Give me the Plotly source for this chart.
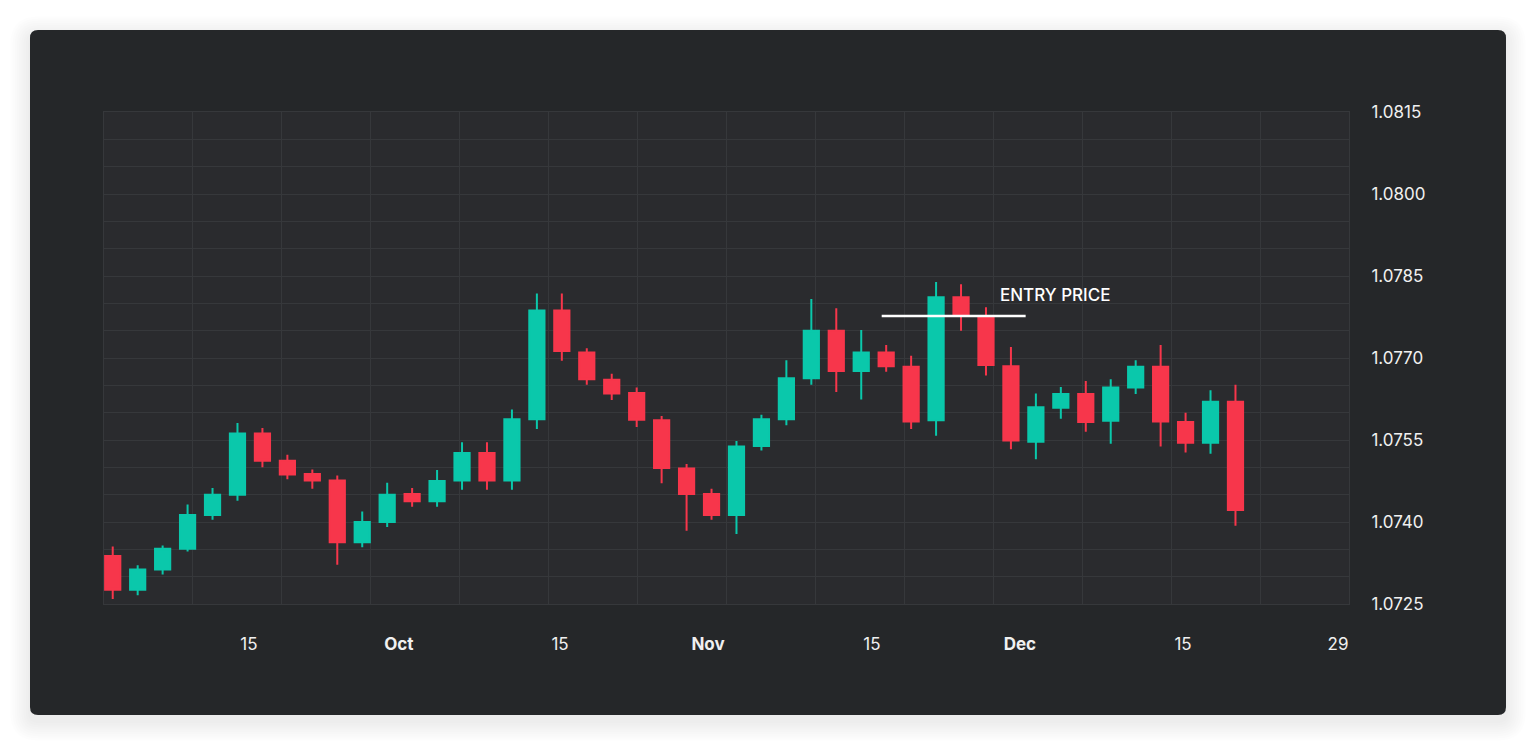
import plotly.graph_objects as go

# candle index (one candle per bar, evenly spaced)
candle = list(range(46))

open_ = [1.07338, 1.07276, 1.07313, 1.07351, 1.07413, 1.07450, 1.07562, 1.07512, 1.07488, 1.07476,
         1.07363, 1.07400, 1.07451, 1.07438, 1.07476, 1.07526, 1.07476, 1.07588, 1.07787, 1.07710,
         1.07660, 1.07636, 1.07586, 1.07498, 1.07451, 1.07413, 1.07539, 1.07588, 1.07663, 1.07750,
         1.07676, 1.07710, 1.07684, 1.07586, 1.07811, 1.07776, 1.07685, 1.07547, 1.07609, 1.07634,
         1.07585, 1.07646, 1.07684, 1.07583, 1.07545, 1.07620]
high = [1.07355, 1.07321, 1.07357, 1.07432, 1.07462, 1.07581, 1.07572, 1.07523, 1.07496, 1.07485,
        1.07419, 1.07472, 1.07462, 1.07495, 1.07546, 1.07546, 1.07606, 1.07818, 1.07818, 1.07718,
        1.07671, 1.07646, 1.07594, 1.07506, 1.07461, 1.07548, 1.07596, 1.07696, 1.07808, 1.07791,
        1.07751, 1.07724, 1.07704, 1.07839, 1.07835, 1.07793, 1.07720, 1.07635, 1.07647, 1.07658,
        1.07661, 1.07696, 1.07724, 1.07600, 1.07641, 1.07651]
low = [1.07259, 1.07266, 1.07304, 1.07346, 1.07404, 1.07439, 1.07500, 1.07478, 1.07461, 1.07322,
       1.07354, 1.07391, 1.07428, 1.07428, 1.07459, 1.07459, 1.07459, 1.07570, 1.07695, 1.07651,
       1.07623, 1.07574, 1.07471, 1.07384, 1.07404, 1.07378, 1.07531, 1.07577, 1.07651, 1.07638,
       1.07624, 1.07675, 1.07570, 1.07558, 1.07750, 1.07668, 1.07533, 1.07515, 1.07589, 1.07565,
       1.07543, 1.07634, 1.07538, 1.07527, 1.07525, 1.07393]
close = [1.07276, 1.07313, 1.07351, 1.07413, 1.07450, 1.07562, 1.07512, 1.07487, 1.07476, 1.07363,
         1.07400, 1.07450, 1.07438, 1.07475, 1.07526, 1.07476, 1.07588, 1.07787, 1.07713, 1.07661,
         1.07635, 1.07587, 1.07499, 1.07451, 1.07413, 1.07538, 1.07588, 1.07663, 1.07750, 1.07676,
         1.07710, 1.07685, 1.07584, 1.07811, 1.07780, 1.07687, 1.07549, 1.07610, 1.07634, 1.07583,
         1.07646, 1.07684, 1.07584, 1.07545, 1.07620, 1.07422]

# date labels along the bottom, placed on the candle index scale
date_ticks = [5.46, 11.47, 17.93, 23.86, 30.43, 36.36, 42.9, 49.11]
date_labels = ["15", "<b>Oct</b>", "15", "<b>Nov</b>", "15", "<b>Dec</b>", "15", "29"]

price_ticks = [1.0725, 1.0740, 1.0755, 1.0770, 1.0785, 1.0800, 1.0815]

entry_price = 1.07777
entry_from, entry_to = 30.82, 36.59

TEAL = "#0ac8ab"
RED = "#f7364b"
CARD = "#252729"
PLOT_BG = "#2a2b2e"
GRID = "#36383b"
FONT = "Inter, Lato, sans-serif"

W, H = 1536, 745
ML, MR, MT, MB = 104, 187, 112, 141
PW, PH = W - ML - MR, H - MT - MB
x_range = [-0.35, 49.55]


def px(x):
    return (x - ML) / PW


def py(y):
    return (H - MB - y) / PH


def rounded(x0, y0, x1, y1, r):
    pts = [("M", x0 + r, y0), ("L", x1 - r, y0), ("Q", x1, y0, x1, y0 + r),
           ("L", x1, y1 - r), ("Q", x1, y1, x1 - r, y1), ("L", x0 + r, y1),
           ("Q", x0, y1, x0, y1 - r), ("L", x0, y0 + r), ("Q", x0, y0, x0 + r, y0)]
    s = ""
    for p in pts:
        c = p[0]
        v = p[1:]
        coords = []
        for i in range(0, len(v), 2):
            coords.append("%.5f,%.5f" % (px(v[i]), py(v[i + 1])))
        s += c + " ".join(coords) + " "
    return s + "Z"


shapes = []
# soft drop shadow around the card
for k in range(9, 0, -1):
    g = k * 2.2
    shapes.append(dict(type="path", xref="paper", yref="paper", layer="below",
                       path=rounded(30 - g, 30 - g + 6, 1506 + g, 715 + g + 6, 8 + g),
                       fillcolor="rgba(0,0,0,0.009)", line=dict(width=0)))
shapes.append(dict(type="path", xref="paper", yref="paper", layer="below",
                   path=rounded(30, 30, 1506, 715, 8), fillcolor=CARD, line=dict(width=0)))
shapes.append(dict(type="rect", xref="paper", yref="paper", layer="below",
                   x0=0, x1=1, y0=0, y1=1, fillcolor=PLOT_BG, line=dict(width=0)))

fig = go.Figure()

fig.add_trace(go.Candlestick(
    x=candle, open=open_, high=high, low=low, close=close,
    increasing=dict(line=dict(color=TEAL, width=2), fillcolor=TEAL),
    decreasing=dict(line=dict(color=RED, width=2), fillcolor=RED),
    whiskerwidth=0, hoverinfo="skip", showlegend=False,
))

fig.add_trace(go.Scatter(
    x=[entry_from, entry_to], y=[entry_price, entry_price], mode="lines",
    line=dict(color="#ffffff", width=2.5), hoverinfo="skip", showlegend=False,
))

fig.add_annotation(x=35.48, y=1.07815, text="ENTRY PRICE", showarrow=False,
                   xanchor="left", yanchor="middle",
                   font=dict(color="#ffffff", size=17, family=FONT, weight=500))

fig.update_layout(
    width=W, height=H,
    margin=dict(l=ML, r=MR, t=MT, b=MB, pad=0),
    paper_bgcolor="#ffffff", plot_bgcolor=PLOT_BG,
    font=dict(family=FONT, size=17, color="#f0f0f0"),
    boxgap=0.39, boxgroupgap=0,
    shapes=shapes,
    showlegend=False,
)

fig.update_xaxes(
    range=x_range, rangeslider_visible=False,
    tickmode="array", tickvals=date_ticks, ticktext=date_labels,
    ticks="", showgrid=False, zeroline=False, ticklabelstandoff=25,
    showline=True, mirror=True, linecolor=GRID, linewidth=1,
    minor=dict(tickmode="linear", tick0=x_range[0], dtick=(x_range[1] - x_range[0]) / 14,
               showgrid=True, gridcolor=GRID, gridwidth=1, ticks=""),
)

fig.update_yaxes(
    range=[1.0725, 1.0815], side="right",
    tickmode="array", tickvals=price_ticks, tickformat=".4f",
    ticks="", showgrid=True, gridcolor=GRID, gridwidth=1, zeroline=False,
    ticklabelstandoff=18,
    showline=True, mirror=True, linecolor=GRID, linewidth=1,
    minor=dict(tickmode="linear", tick0=1.0725, dtick=0.0005,
               showgrid=True, gridcolor=GRID, gridwidth=1, ticks=""),
)

fig.write_html("out.html", config={"displayModeBar": False},
               post_script="document.body.style.margin='0';document.body.style.overflow='hidden';")
